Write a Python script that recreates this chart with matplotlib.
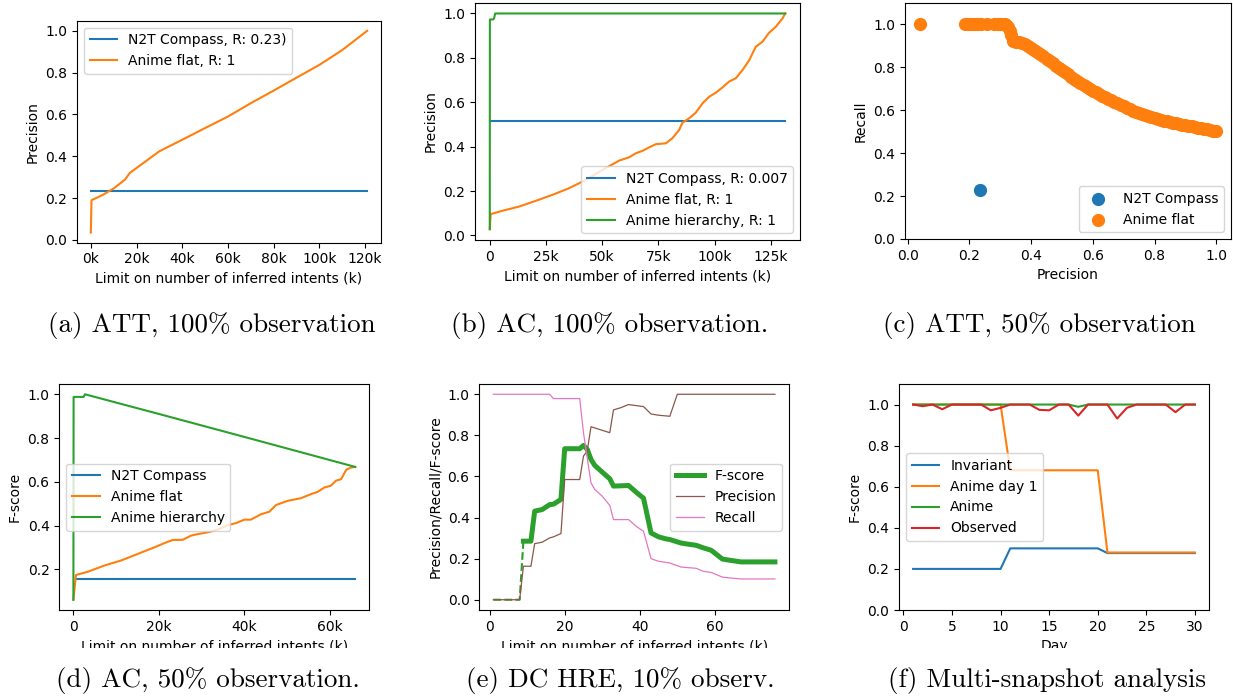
import matplotlib

matplotlib.use("Agg")
import matplotlib.pyplot as plt
from matplotlib.patches import Rectangle
from matplotlib.ticker import FuncFormatter

# (a) ATT, 100% observation -- precision vs limit (k)
a_flat_x = [0, 0.3, 5, 10, 15, 17, 20, 30, 40, 50, 60, 70, 80, 90, 100, 110, 120.9]
a_flat_y = [0.035, 0.19, 0.214, 0.246, 0.289, 0.32, 0.344, 0.424, 0.479, 0.535,
            0.59, 0.654, 0.714, 0.776, 0.837, 0.908, 1.0]
a_n2t_x = [0, 120.9]
a_n2t_y = [0.232, 0.232]

# (b) AC, 100% observation
b_flat_x = [0, 0.4, 5.6, 13, 20.5, 27.9, 35.3, 42.7, 50.1, 57.5, 62, 64.9, 67.9, 70.9,
            73.8, 78.3, 81.2, 84.2, 85.7, 88.7, 91.6, 94.6, 97.6, 100.5, 103.5, 106.4,
            109.4, 112.4, 115.4, 118.3, 121.3, 124.2, 127.2, 130.2, 131.4]
b_flat_y = [0.028, 0.096, 0.111, 0.13, 0.156, 0.183, 0.213, 0.25, 0.295, 0.337, 0.352,
            0.37, 0.381, 0.397, 0.411, 0.415, 0.438, 0.475, 0.508, 0.528, 0.553, 0.595,
            0.625, 0.643, 0.667, 0.693, 0.708, 0.745, 0.79, 0.85, 0.873, 0.913, 0.94,
            0.978, 1.0]
b_hier_x = [0, 0.05, 1.5, 1.9, 2.4, 131.4]
b_hier_y = [0.028, 0.973, 0.973, 0.978, 1.0, 1.0]
b_n2t_x = [0, 131.4]
b_n2t_y = [0.517, 0.517]

# (c) ATT, 50% observation -- recall vs precision
c_n2t_p = [0.234]
c_n2t_r = [0.23]
c_flat_p = [0.039, 0.186, 0.193, 0.2, 0.207, 0.214, 0.221, 0.228, 0.236, 0.257, 0.279,
            0.286, 0.293, 0.30, 0.307, 0.314, 0.32, 0.326, 0.331, 0.336,
            0.34, 0.35, 0.36, 0.37, 0.38, 0.39, 0.40, 0.41, 0.42, 0.43, 0.44, 0.45,
            0.46, 0.47, 0.48, 0.49, 0.50, 0.51, 0.52, 0.53, 0.54, 0.55, 0.56, 0.57,
            0.58, 0.59, 0.60, 0.61, 0.62, 0.63, 0.64, 0.65, 0.66, 0.67, 0.68, 0.69,
            0.70, 0.71, 0.72, 0.73, 0.74, 0.75, 0.76, 0.77, 0.78, 0.79, 0.80, 0.81,
            0.82, 0.83, 0.84, 0.85, 0.86, 0.87, 0.88, 0.89, 0.90, 0.91, 0.92, 0.93,
            0.94, 0.95, 0.96, 0.97, 0.98, 0.99, 1.00]
c_flat_r = [1.0, 1.0, 1.0, 1.0, 1.0, 1.0, 1.0, 1.0, 1.0, 1.0, 1.0,
            1.0, 1.0, 1.0, 1.0, 1.0, 0.995, 0.985, 0.97, 0.95,
            0.922, 0.916, 0.915, 0.912, 0.906, 0.898, 0.890, 0.882, 0.872, 0.862,
            0.851, 0.840, 0.830, 0.819, 0.807, 0.796, 0.786, 0.776, 0.766, 0.756,
            0.746, 0.737, 0.728, 0.719, 0.709, 0.700, 0.691, 0.683, 0.675, 0.668,
            0.660, 0.652, 0.645, 0.638, 0.631, 0.624, 0.617, 0.610, 0.604, 0.598,
            0.592, 0.587, 0.581, 0.576, 0.571, 0.566, 0.561, 0.557, 0.553, 0.550,
            0.547, 0.544, 0.541, 0.538, 0.535, 0.532, 0.530, 0.527, 0.524, 0.521,
            0.519, 0.516, 0.513, 0.510, 0.508, 0.505, 0.502]

# (d) AC, 50% observation -- F-score vs limit (k)
d_flat_x = [0, 0.6, 3.4, 7.2, 11.1, 15, 18.9, 21.3, 23.2, 25.6, 27.5, 29.1, 31.4, 33.7,
            36.1, 38, 40, 41.5, 43.9, 45.8, 47.4, 50.1, 53.2, 55.6, 57.1, 58.7, 60.2,
            61.4, 62.6, 63.8, 64.9, 65.9]
d_flat_y = [0.061, 0.174, 0.189, 0.217, 0.24, 0.27, 0.30, 0.32, 0.334, 0.335, 0.354,
            0.361, 0.369, 0.381, 0.402, 0.411, 0.427, 0.427, 0.452, 0.463, 0.494, 0.513,
            0.525, 0.544, 0.554, 0.574, 0.582, 0.605, 0.612, 0.655, 0.665, 0.668]
d_hier_x = [0, 0.05, 2.4, 2.7, 20, 40, 65.9]
d_hier_y = [0.061, 0.988, 0.988, 1.0, 0.91, 0.805, 0.668]
d_n2t_x = [0.6, 65.9]
d_n2t_y = [0.158, 0.158]

# (e) DC HRE, 10% observation
e_prec_x = [1, 8, 9, 11, 12, 14, 16, 17, 19, 20, 24, 25, 26, 27, 32, 33, 35, 37, 41, 43,
            45, 48, 50, 76]
e_prec_y = [0.0, 0.0, 0.163, 0.163, 0.273, 0.28, 0.301, 0.306, 0.322, 0.585, 0.585,
            0.699, 0.724, 0.842, 0.813, 0.924, 0.935, 0.95, 0.94, 0.904, 0.898, 0.893,
            1.0, 1.0]
e_rec_x = [1, 16, 17, 24, 25, 27, 28, 30, 32, 33, 37, 39, 41, 43, 45, 48, 51, 55, 57, 59,
           62, 64, 67, 76]
e_rec_y = [1.0, 1.0, 0.979, 0.979, 0.813, 0.569, 0.537, 0.504, 0.459, 0.39, 0.39, 0.358,
           0.333, 0.2, 0.187, 0.179, 0.159, 0.153, 0.138, 0.133, 0.11, 0.106, 0.101,
           0.101]
e_f_x = [9, 11, 12, 14, 16, 17, 19, 20, 24, 25, 26, 27, 28, 30, 32, 33, 37, 39, 41, 43,
         45, 47, 48, 51, 53, 55, 57, 59, 62, 64, 67, 76]
e_f_y = [0.285, 0.285, 0.431, 0.439, 0.463, 0.465, 0.488, 0.735, 0.735, 0.751, 0.732,
         0.683, 0.654, 0.621, 0.589, 0.553, 0.556, 0.524, 0.494, 0.325, 0.306, 0.296,
         0.293, 0.276, 0.27, 0.265, 0.252, 0.241, 0.198, 0.192, 0.184, 0.184]
e_fnan_x = [1, 8, 9]
e_fnan_y = [0.0, 0.0, 0.285]

# (f) multi-snapshot
days = list(range(1, 31))
f_invariant = [0.2] * 10 + [0.3] * 10 + [0.277] * 10
f_day1 = [1.0] * 10 + [0.68] * 10 + [0.28] * 10
f_anime = [1.0] * 17 + [0.989] + [1.0] * 12
f_observed = [1.0, 0.992, 1.0, 0.977, 1.0, 1.0, 1.0, 1.0, 0.972, 0.984,
              1.0, 1.0, 1.0, 0.974, 0.972, 1.0, 1.0, 0.946, 1.0, 1.0,
              1.0, 0.932, 0.984, 1.0, 1.0, 1.0, 1.0, 0.963, 1.0, 1.0]

captions = ["(a) ATT, 100% observation", "(b) AC, 100% observation.",
            "(c) ATT, 50% observation", "(d) AC, 50% observation.",
            "(e) DC HRE, 10% observ.", "(f) Multi-snapshot analysis"]

W, H = 1233, 698
fig = plt.figure(figsize=(W / 100, H / 100), dpi=100)


def axes_px(left, top, right, bottom):
    return fig.add_axes([left / W, 1 - bottom / H, (right - left) / W, (bottom - top) / H])


kfmt = FuncFormatter(lambda v, p: f"{v:.0f}k")
kfmt0 = FuncFormatter(lambda v, p: "0" if abs(v) < 1e-9 else f"{v:.0f}k")
xlab = "Limit on number of inferred intents (k)"

# (a)
ax = axes_px(77, 20.7, 381, 242.7)
ax.plot(a_n2t_x, a_n2t_y, label="N2T Compass, R: 0.23)")
ax.plot(a_flat_x, a_flat_y, label="Anime flat, R: 1")
ax.xaxis.set_major_formatter(kfmt)
ax.set_xlabel(xlab)
ax.set_ylabel("Precision")
ax.legend(loc="upper left")

# (b)
ax = axes_px(475, 2.7, 800, 240)
ax.plot(b_n2t_x, b_n2t_y, label="N2T Compass, R: 0.007")
ax.plot(b_flat_x, b_flat_y, label="Anime flat, R: 1")
ax.plot(b_hier_x, b_hier_y, label="Anime hierarchy, R: 1")
ax.set_xticks([0, 25, 50, 75, 100, 125])
ax.xaxis.set_major_formatter(kfmt0)
ax.set_xlabel(xlab)
ax.set_ylabel("Precision")
ax.legend(loc="lower right")

# (c)
ax = axes_px(905, 2.7, 1231, 239)
ax.scatter(c_n2t_p, c_n2t_r, s=72, label="N2T Compass")
ax.scatter(c_flat_p, c_flat_r, s=72, label="Anime flat")
ax.set_ylim(0, 1.1)
ax.set_xlabel("Precision")
ax.set_ylabel("Recall")
ax.legend(loc="lower right")

# (d)
ax = axes_px(59.3, 384, 369.3, 610)
ax.plot(d_n2t_x, d_n2t_y, label="N2T Compass")
ax.plot(d_flat_x, d_flat_y, label="Anime flat")
ax.plot(d_hier_x, d_hier_y, label="Anime hierarchy")
ax.set_xticks([0, 20, 40, 60])
ax.xaxis.set_major_formatter(kfmt0)
ax.set_xlabel(xlab)
ax.set_ylabel("F-score")
ax.legend(loc="center left")

# (e)
ax = axes_px(479.3, 384, 789, 610)
ax.plot(e_f_x, e_f_y, color="tab:green", lw=3.6, label="F-score")
ax.plot(e_fnan_x, e_fnan_y, color="tab:green", lw=1.5, ls="--")
ax.plot(e_prec_x, e_prec_y, color="tab:brown", lw=0.9, label="Precision")
ax.plot(e_rec_x, e_rec_y, color="tab:pink", lw=0.9, label="Recall")
ax.set_xlabel(xlab)
ax.set_ylabel("Precision/Recall/F-score")
ax.legend(loc="center right")

# (f)
ax = axes_px(899, 384, 1209, 610)
ax.plot(days, f_invariant, label="Invariant")
ax.plot(days, f_day1, label="Anime day 1")
ax.plot(days, f_anime, label="Anime")
ax.plot(days, f_observed, label="Observed")
ax.set_ylim(0, 1.1)
ax.set_xticks([0, 5, 10, 15, 20, 25, 30])
ax.set_xlabel("Day")
ax.set_ylabel("F-score")
ax.legend(loc="center left")

# the bottom subfigures are cropped just under the axis labels
fig.patches.append(Rectangle((0, 0), 1, 1 - 648 / H, transform=fig.transFigure,
                             facecolor="white", edgecolor="none", zorder=10))

cap_x = [212, 610, 1039, 208, 620, 1047]
cap_y = [325, 325, 325, 680, 680, 680]
for txt, cx, cy in zip(captions, cap_x, cap_y):
    fig.text(cx / W, 1 - cy / H, txt, ha="center", va="center", fontsize=19.5,
             family="cmr10", zorder=11)

fig.savefig("out.png", dpi=100)
